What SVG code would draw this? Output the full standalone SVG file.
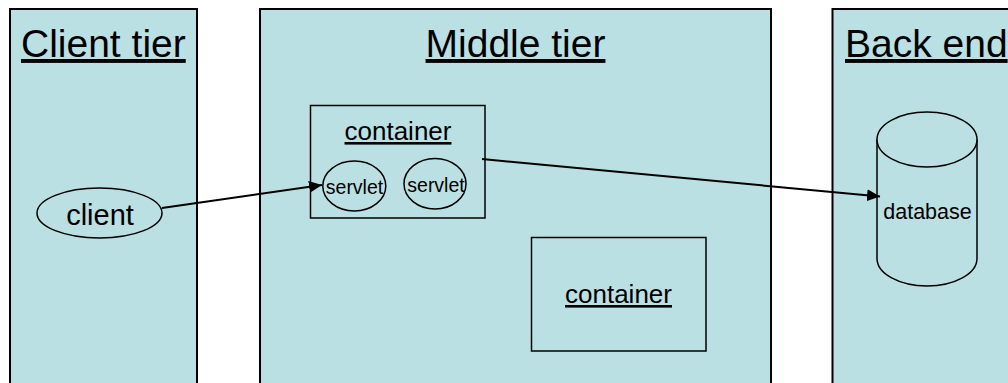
<svg xmlns="http://www.w3.org/2000/svg" width="1008" height="383" viewBox="0 0 1008 383">
<style>
  .panel{fill:#BAE0E3;stroke:#000;stroke-width:2}
  .box{fill:#BAE0E3;stroke:#000;stroke-width:1.5}
  .t{font-family:"Liberation Sans",Arial,sans-serif;fill:#000}
  .u{text-decoration:underline}
  .conn{stroke:#000;stroke-width:2;fill:none}
</style>
<defs>
  <marker id="arrow" markerUnits="userSpaceOnUse" markerWidth="13" markerHeight="12" refX="13" refY="6" orient="auto">
    <path d="M0,0 L13,6 L0,12 Z" fill="#000"/>
  </marker>
</defs>
<rect width="1008" height="383" fill="#fff"/>
<g id="client-tier">
  <rect class="panel" x="10" y="9" width="187" height="380"/>
  <text class="t u" x="21" y="57" font-size="39">Client tier</text>
</g>
<g id="middle-tier">
  <rect class="panel" x="260" y="9" width="511" height="380"/>
  <text class="t u" x="515.5" y="57" font-size="39" text-anchor="middle">Middle tier</text>
</g>
<g id="back-end">
  <rect class="panel" x="832.5" y="9" width="190" height="380"/>
  <text class="t u" x="845" y="57" font-size="39">Back end</text>
</g>
<g id="client">
  <ellipse class="box" cx="99.5" cy="213" rx="62.5" ry="25"/>
  <text class="t" x="100" y="225" font-size="29" text-anchor="middle">client</text>
</g>
<g id="container1">
  <rect class="box" x="310.5" y="105.5" width="174.5" height="112.5"/>
  <text class="t u" x="398" y="140" font-size="26" text-anchor="middle">container</text>
</g>
<g id="servlet1">
  <ellipse class="box" cx="354.3" cy="186" rx="31.5" ry="25"/>
  <text class="t" x="354.5" y="194" font-size="19.5" text-anchor="middle">servlet</text>
</g>
<g id="servlet2">
  <ellipse class="box" cx="435" cy="183.7" rx="31" ry="25.3"/>
  <text class="t" x="436" y="192" font-size="19.5" text-anchor="middle">servlet</text>
</g>
<g id="container2">
  <rect class="box" x="531.5" y="237.5" width="174.5" height="113.5"/>
  <text class="t u" x="618.5" y="303" font-size="26" text-anchor="middle">container</text>
</g>
<g id="database">
  <path class="box" d="M877,139.5 L877,258.5 A50,27.5 0 0 0 977,258.5 L977,139.5"/>
  <ellipse class="box" cx="927" cy="139.5" rx="50" ry="27.5"/>
  <text class="t" x="927.5" y="219" font-size="21.5" text-anchor="middle">database</text>
</g>
<g id="connectors">
  <line class="conn" x1="162" y1="208" x2="322" y2="185" marker-end="url(#arrow)"/>
  <line class="conn" x1="482" y1="159" x2="880" y2="196.5" marker-end="url(#arrow)"/>
</g>
</svg>
